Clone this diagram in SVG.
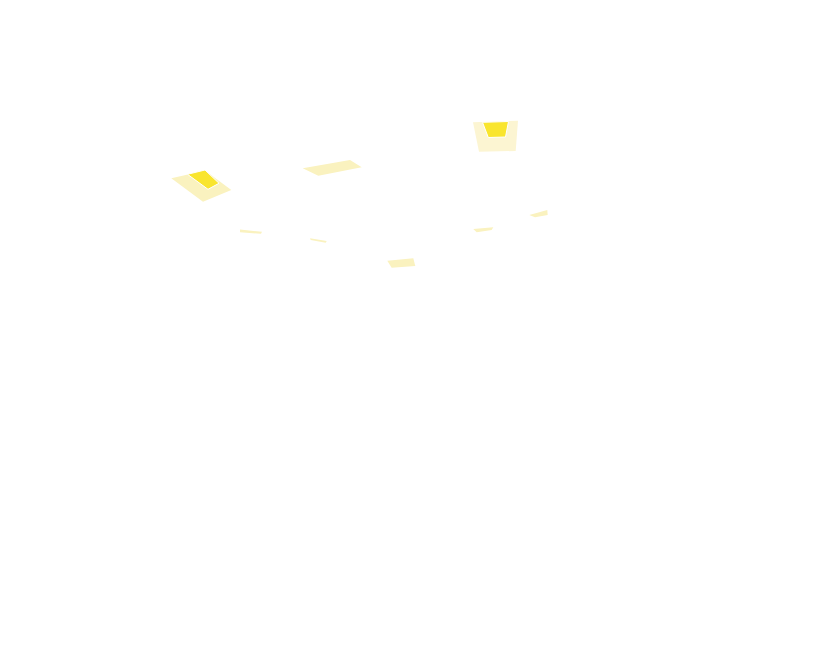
<svg xmlns="http://www.w3.org/2000/svg" width="818" height="668" viewBox="0 0 818 668">
<style>
.lt{fill:#faf2bf;stroke:none}
.lt2{fill:#fcf5d2;stroke:none}
.dk{fill:#f9e52e;stroke:#ffffff;stroke-width:1;stroke-linejoin:round}
</style>
<rect width="818" height="668" fill="#ffffff"/>
<g id="lamp-left">
<polygon class="lt" points="171.3,178.3 188,174.5 205,170.5 231.3,190 203,201.7"/>
<polygon class="dk" points="187.5,174.3 205,170 219,183.3 208,189.3"/>
</g>
<g id="lamp-top">
<polygon class="lt2" points="473,122.3 518,120.7 515.7,151 479,151.7"/>
<polygon class="dk" points="482.5,122.3 508.5,121.5 505.5,137 488.3,137.5"/>
</g>
<g id="patches">
<polygon class="lt" points="302.7,168.3 350,160 361.7,167.3 318.3,175.7"/>
<polygon class="lt" points="240,229.5 262,231.8 261,233.8 240,232.3"/>
<polygon class="lt" points="310,238.3 326.7,241 325.7,242.7 310.7,240"/>
<polygon class="lt" points="387.3,260.7 413.3,258.3 415.3,266 391.7,267.7"/>
<polygon class="lt" points="473.3,229 493.3,227.3 491.7,230 476.7,232.3"/>
<polygon class="lt" points="529.3,215 547.3,210 547.7,215 535,217.3"/>
</g>
</svg>
